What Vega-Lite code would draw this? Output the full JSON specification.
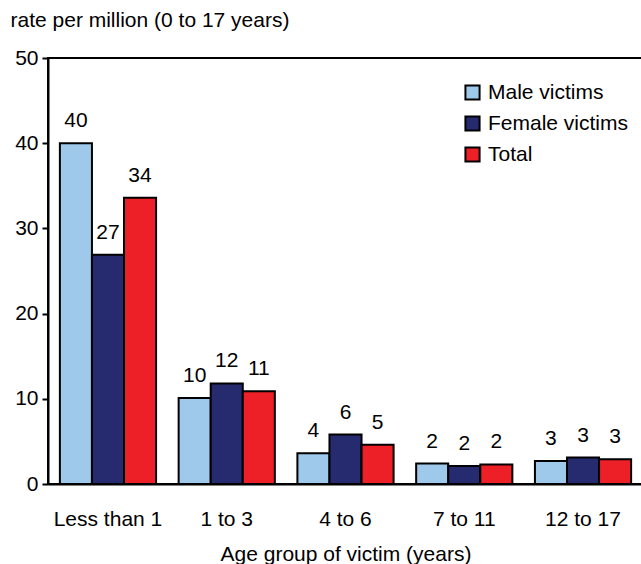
{
  "$schema": "https://vega.github.io/schema/vega-lite/v6.json",
  "width": 595,
  "height": 426,
  "autosize": "none",
  "padding": {"left": 48, "top": 58, "right": 0, "bottom": 80},
  "config": {
    "font": "Liberation Sans",
    "view": {"stroke": "black", "strokeWidth": 2},
    "axis": {"labelFont": "Liberation Sans", "titleFont": "Liberation Sans", "labelColor": "black", "titleColor": "black"}
  },
  "data": {
    "values": [
      {"age": "Less than 1", "sex": "Male victims", "rate": 40.0},
      {"age": "Less than 1", "sex": "Female victims", "rate": 26.9},
      {"age": "Less than 1", "sex": "Total", "rate": 33.6},
      {"age": "1 to 3", "sex": "Male victims", "rate": 10.1},
      {"age": "1 to 3", "sex": "Female victims", "rate": 11.8},
      {"age": "1 to 3", "sex": "Total", "rate": 10.9},
      {"age": "4 to 6", "sex": "Male victims", "rate": 3.6},
      {"age": "4 to 6", "sex": "Female victims", "rate": 5.8},
      {"age": "4 to 6", "sex": "Total", "rate": 4.6},
      {"age": "7 to 11", "sex": "Male victims", "rate": 2.4},
      {"age": "7 to 11", "sex": "Female victims", "rate": 2.1},
      {"age": "7 to 11", "sex": "Total", "rate": 2.3},
      {"age": "12 to 17", "sex": "Male victims", "rate": 2.7},
      {"age": "12 to 17", "sex": "Female victims", "rate": 3.1},
      {"age": "12 to 17", "sex": "Total", "rate": 2.9}
    ]
  },
  "encoding": {
    "x": {
      "field": "age", "type": "nominal", "sort": null,
      "scale": {"paddingInner": 0.19, "paddingOuter": 0.1},
      "axis": {
        "title": "Age group of victim (years)", "titleFontSize": 21, "titleFontWeight": "normal", "titlePadding": 14,
        "labelAngle": 0, "labelFontSize": 21, "labelPadding": 24, "ticks": false,
        "domainColor": "black", "domainWidth": 2
      }
    },
    "xOffset": {"field": "sex", "type": "nominal", "sort": ["Male victims", "Female victims", "Total"], "scale": {"paddingInner": 0, "paddingOuter": 0}},
    "y": {
      "field": "rate", "type": "quantitative",
      "scale": {"domain": [0, 50], "nice": false},
      "axis": {
        "values": [0, 10, 20, 30, 40, 50], "grid": false,
        "title": "rate per million (0 to 17 years)", "titleAngle": 0, "titleFontSize": 21, "titleFontWeight": "normal",
        "titleAlign": "left", "titleBaseline": "middle", "titleX": -38, "titleY": -38,
        "labelFontSize": 21, "labelPadding": 4, "tickSize": 6, "tickColor": "black", "tickWidth": 2,
        "domainColor": "black", "domainWidth": 2
      }
    }
  },
  "layer": [
    {
      "mark": {"type": "bar", "stroke": "black", "strokeWidth": 2},
      "encoding": {
        "color": {
          "field": "sex", "type": "nominal",
          "scale": {"domain": ["Male victims", "Female victims", "Total"], "range": ["#9fc9ea", "#262a6e", "#ec2026"]},
          "legend": {
            "title": null, "orient": "none", "legendX": 414, "legendY": 24,
            "labelFontSize": 21, "labelColor": "black", "symbolType": "square", "symbolSize": 200,
            "symbolStrokeColor": "black", "symbolStrokeWidth": 2, "rowPadding": 8, "labelOffset": 5
          }
        }
      }
    },
    {
      "mark": {"type": "text", "baseline": "bottom", "dy": -12, "fontSize": 21, "color": "black"},
      "encoding": {
        "text": {"field": "rate", "type": "quantitative", "format": ".0f"}
      }
    }
  ]
}
